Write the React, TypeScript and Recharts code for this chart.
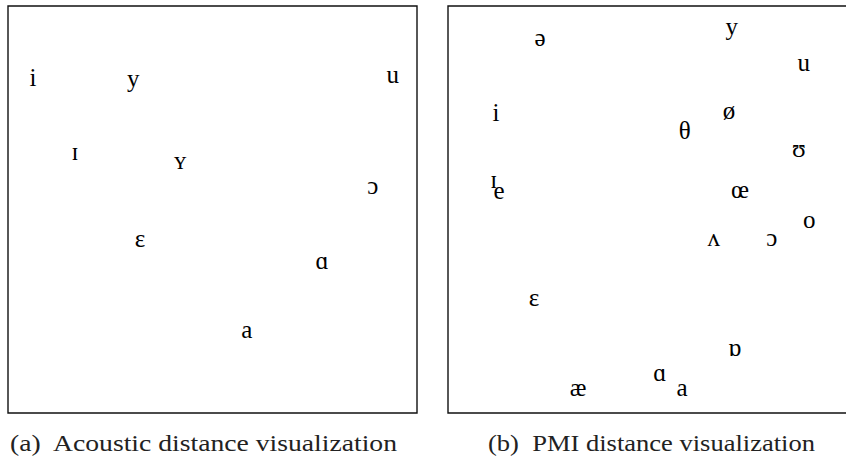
import { ReferenceArea, Scatter, ScatterChart, XAxis, YAxis } from 'recharts'

// (a) acoustic distance, positions in a 0-100 box
const acousticLabels = ['i', 'y', 'u', 'ɪ', 'ʏ', 'ɔ', 'ɛ', 'ɑ', 'a']
const acousticX = [6.1, 30.6, 94.1, 16.4, 42.1, 89.2, 32.3, 76.8, 58.4]
const acousticY = [81.8, 81.6, 82.6, 63.6, 61.4, 55.3, 42.3, 36.9, 19.9]

// (b) PMI distance
const pmiLabels = ['ə', 'y', 'u', 'i', 'ø', 'θ', 'ʊ', 'ɪ', 'e', 'œ', 'o', 'ʌ', 'ɔ', 'ɛ', 'ɒ', 'ɑ', 'æ', 'a']
const pmiX = [22.5, 69.4, 87.0, 11.7, 68.7, 57.9, 85.8, 11.2, 12.5, 71.4, 88.3, 65.0, 79.2, 21.0, 70.1, 51.8, 31.8, 57.2]
const pmiY = [91.6, 94.3, 85.5, 73.2, 73.7, 68.8, 64.4, 56.8, 54.1, 54.3, 46.9, 42.5, 42.5, 27.8, 15.5, 9.3, 5.7, 5.7]

const captions = ['(a)  Acoustic distance visualization', '(b)  PMI distance visualization']

const FONT = 25

const toRows = (labels: string[], xs: number[], ys: number[]) =>
  labels.map((label, i) => ({ label, x: xs[i], y: ys[i] }))

const Glyph = (props: any) => {
  const { cx, cy, payload } = props
  return (
    <text
      x={cx}
      y={cy}
      dy={FONT * 0.23}
      textAnchor="middle"
      fontFamily="Liberation Serif, DejaVu Serif, serif"
      fontSize={FONT}
      fill="#000"
    >
      {payload.label}
    </text>
  )
}

const Panel = ({ rows }: { rows: { label: string; x: number; y: number }[] }) => (
  <ScatterChart width={413} height={411} margin={{ top: 2, right: 2, bottom: 2, left: 2 }}>
    <XAxis type="number" dataKey="x" domain={[0, 100]} hide />
    <YAxis type="number" dataKey="y" domain={[0, 100]} hide />
    <ReferenceArea x1={0} x2={100} y1={0} y2={100} fill="none" stroke="#111" strokeWidth={1.4} ifOverflow="visible" />
    <Scatter data={rows} shape={Glyph} isAnimationActive={false} />
  </ScatterChart>
)

export default function App() {
  return (
    <div style={{ position: 'absolute', left: 0, top: 0, width: 846, height: 461, overflow: 'hidden', background: '#fff' }}>
      <div style={{ position: 'absolute', left: 6, top: 4 }}>
        <Panel rows={toRows(acousticLabels, acousticX, acousticY)} />
      </div>
      <div style={{ position: 'absolute', left: 446, top: 4 }}>
        <Panel rows={toRows(pmiLabels, pmiX, pmiY)} />
      </div>
      <svg width={846} height={461} style={{ position: 'absolute', left: 0, top: 0, pointerEvents: 'none' }}>
        <text x={10} y={451} textLength={387} lengthAdjust="spacingAndGlyphs" fontFamily="Liberation Serif, serif" fontSize={23} fill="#222" style={{ whiteSpace: 'pre' }}>
          {captions[0]}
        </text>
        <text x={488} y={451} textLength={327} lengthAdjust="spacingAndGlyphs" fontFamily="Liberation Serif, serif" fontSize={23} fill="#222" style={{ whiteSpace: 'pre' }}>
          {captions[1]}
        </text>
      </svg>
    </div>
  )
}
